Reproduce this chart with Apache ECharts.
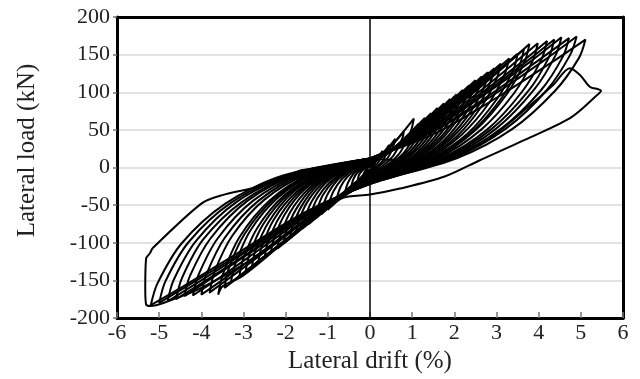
<!DOCTYPE html>
<html>
<head>
<meta charset="utf-8">
<script src="https://cdn.jsdelivr.net/npm/echarts@6/dist/echarts.min.js"></script>
<style>
html,body{margin:0;padding:0;background:#fff;}
#chart{width:640px;height:379px;}
</style>
</head>
<body>
<div id="chart"></div>
<script>
// axis ranges
var driftTicks = [-6,-5,-4,-3,-2,-1,0,1,2,3,4,5,6];
var loadTicks = [-200,-150,-100,-50,0,50,100,150,200];

// load cycles, [drift %, load kN]
var smallCycles = [
	[[0,0],[0.05,4],[0.09,7],[0.13,10],[0.15,12],[0.15,10],[0.13,7],[0.1,4],[0.06,1],[0,-4],[-0.05,-3],[-0.09,-6],[-0.13,-9],[-0.15,-10],[-0.15,-8],[-0.13,-6],[-0.1,-3],[-0.06,-1],[0,2]],
	[[0,2],[0.09,6],[0.18,12],[0.25,18],[0.3,22],[0.29,19],[0.26,13],[0.2,7],[0.12,2],[0,-5],[-0.09,-6],[-0.18,-12],[-0.25,-16],[-0.3,-19],[-0.29,-16],[-0.26,-10],[-0.2,-5],[-0.12,-1],[0,3]],
	[[0,3],[0.14,8],[0.27,17],[0.38,24],[0.45,30],[0.44,26],[0.39,18],[0.3,9],[0.18,2],[0,-6],[-0.14,-9],[-0.27,-17],[-0.38,-24],[-0.45,-28],[-0.44,-24],[-0.39,-15],[-0.3,-7],[-0.18,-2],[0,4]],
	[[0,4],[0.18,10],[0.36,21],[0.5,31],[0.6,38],[0.58,33],[0.52,23],[0.4,11],[0.24,3],[0,-7],[-0.18,-12],[-0.36,-22],[-0.5,-31],[-0.6,-36],[-0.58,-30],[-0.52,-20],[-0.4,-9],[-0.24,-2],[0,5]],
	[[0,5],[0.24,13],[0.48,27],[0.67,39],[0.8,48],[0.78,41],[0.69,29],[0.53,14],[0.32,3],[0,-8],[-0.24,-15],[-0.48,-29],[-0.67,-39],[-0.8,-46],[-0.78,-39],[-0.69,-25],[-0.53,-12],[-0.32,-3],[0,6]],
	[[0,6],[0.31,17],[0.62,36],[0.87,53],[1.04,65],[0.98,50],[0.89,38],[0.69,18],[0.42,4],[0,-10],[-0.3,-18],[-0.6,-35],[-0.84,-48],[-1.0,-56],[-0.97,-47],[-0.86,-31],[-0.66,-15],[-0.4,-3],[0,6]],
	[[0,6],[0.35,16],[0.69,32],[0.97,47],[1.15,58],[1.12,50],[0.99,35],[0.76,17],[0.46,4],[0,-11],[-0.35,-20],[-0.69,-38],[-0.97,-53],[-1.15,-62],[-1.12,-52],[-0.99,-34],[-0.76,-16],[-0.46,-4],[0,7]],
	[[0,7],[0.39,18],[0.78,37],[1.09,54],[1.3,66],[1.26,57],[1.12,40],[0.86,20],[0.52,5],[0,-11],[-0.39,-22],[-0.78,-42],[-1.09,-58],[-1.3,-68],[-1.26,-57],[-1.12,-37],[-0.86,-18],[-0.52,-4],[0,7]],
	[[0,7],[0.44,19],[0.87,40],[1.22,59],[1.45,72],[1.41,62],[1.25,43],[0.96,22],[0.58,5],[0,-12],[-0.44,-25],[-0.87,-47],[-1.22,-64],[-1.45,-75],[-1.41,-63],[-1.25,-41],[-0.96,-20],[-0.58,-5],[0,7]],
	[[0,7],[0.48,21],[0.96,44],[1.34,64],[1.6,79],[1.55,68],[1.38,47],[1.06,24],[0.64,6],[0,-13],[-0.48,-27],[-0.96,-50],[-1.34,-69],[-1.6,-81],[-1.55,-68],[-1.38,-45],[-1.06,-21],[-0.64,-5],[0,8]]
];
var midCycles = [
	[[0,8],[0.53,23],[1.05,47],[1.47,69],[1.75,85],[1.7,73],[1.51,51],[1.16,26],[0.7,6],[0,-13],[-0.53,-29],[-1.05,-54],[-1.47,-74],[-1.75,-87],[-1.7,-73],[-1.51,-48],[-1.16,-23],[-0.7,-5],[0,8]],
	[[0,8],[0.57,24],[1.14,51],[1.6,74],[1.9,91],[1.84,78],[1.63,55],[1.25,27],[0.76,6],[0,-14],[-0.57,-31],[-1.14,-58],[-1.6,-80],[-1.9,-94],[-1.84,-79],[-1.63,-52],[-1.25,-24],[-0.76,-6],[0,8]],
	[[0,8],[0.62,26],[1.23,54],[1.72,79],[2.05,97],[1.99,83],[1.76,58],[1.35,29],[0.82,7],[0,-14],[-0.62,-33],[-1.23,-63],[-1.72,-86],[-2.05,-101],[-1.99,-85],[-1.76,-56],[-1.35,-26],[-0.82,-6],[0,8]],
	[[0,8],[0.66,28],[1.32,58],[1.85,84],[2.2,103],[2.13,89],[1.89,62],[1.45,31],[0.88,7],[0,-15],[-0.66,-36],[-1.32,-67],[-1.85,-92],[-2.2,-108],[-2.13,-91],[-1.89,-59],[-1.45,-28],[-0.88,-6],[0,9]],
	[[0,9],[0.71,29],[1.41,61],[1.97,89],[2.35,109],[2.28,94],[2.02,65],[1.55,33],[0.94,8],[0,-15],[-0.71,-37],[-1.41,-70],[-1.97,-96],[-2.35,-113],[-2.28,-95],[-2.02,-62],[-1.55,-29],[-0.94,-7],[0,9]],
	[[0,9],[0.75,31],[1.5,65],[2.1,95],[2.5,116],[2.43,100],[2.15,70],[1.65,35],[1.0,8],[0,-16],[-0.75,-40],[-1.5,-74],[-2.1,-102],[-2.5,-120],[-2.43,-101],[-2.15,-66],[-1.65,-31],[-1.0,-7],[0,9]],
	[[0,9],[0.8,33],[1.59,68],[2.23,99],[2.65,121],[2.57,104],[2.28,73],[1.75,36],[1.06,8],[0,-16],[-0.8,-42],[-1.59,-78],[-2.23,-107],[-2.65,-126],[-2.57,-106],[-2.28,-69],[-1.75,-33],[-1.06,-8],[0,10]],
	[[0,10],[0.84,34],[1.68,71],[2.35,104],[2.8,127],[2.72,109],[2.41,76],[1.85,38],[1.12,9],[0,-17],[-0.84,-44],[-1.68,-82],[-2.35,-112],[-2.8,-132],[-2.72,-111],[-2.41,-73],[-1.85,-34],[-1.12,-8],[0,10]],
	[[0,10],[0.89,35],[1.77,74],[2.48,108],[2.95,132],[2.86,114],[2.54,79],[1.95,40],[1.18,9],[0,-17],[-0.89,-46],[-1.77,-86],[-2.48,-117],[-2.95,-138],[-2.86,-116],[-2.54,-76],[-1.95,-36],[-1.18,-8],[0,10]],
	[[0,10],[0.93,37],[1.86,77],[2.6,113],[3.1,138],[3.01,119],[2.67,83],[2.05,41],[1.24,10],[0,-17],[-0.93,-48],[-1.86,-90],[-2.6,-123],[-3.1,-145],[-3.01,-122],[-2.67,-80],[-2.05,-38],[-1.24,-9],[0,10]],
	[[0,10],[0.99,39],[1.98,81],[2.77,119],[3.3,145],[3.2,125],[2.84,87],[2.18,44],[1.32,10],[0,-18],[-0.99,-50],[-1.98,-95],[-2.77,-130],[-3.3,-153],[-3.2,-129],[-2.84,-84],[-2.18,-40],[-1.32,-9],[0,11]],
	[[0,11],[1.05,40],[2.1,85],[2.94,124],[3.5,151],[3.4,130],[3.01,91],[2.31,45],[1.4,11],[0,-18],[-1.04,-53],[-2.07,-99],[-2.9,-136],[-3.45,-160],[-3.35,-134],[-2.97,-88],[-2.28,-42],[-1.38,-10],[0,11]],
	[[0,11],[1.1,42],[2.19,88],[3.07,129],[3.65,157],[3.54,135],[3.14,94],[2.41,47],[1.46,11],[0,-18],[-1.08,-56],[-2.16,-105],[-3.02,-144],[-3.5,-158],[-3.6,-169],[-3.49,-142],[-3.1,-93],[-2.38,-44],[-1.44,-10],[0,11]]
];
var lateCycles = [
	[[0,11],[1.13,44],[2.27,91],[3.18,134],[3.78,164],[3.67,141],[3.25,98],[2.49,49],[1.51,11],[0,-19],[-1.14,-55],[-2.28,-103],[-3.19,-141],[-3.8,-166],[-3.69,-139],[-3.27,-91],[-2.51,-43],[-1.52,-10],[0,11]],
	[[0,11],[1.19,44],[2.39,92],[3.34,135],[3.98,165],[3.86,142],[3.42,99],[2.63,50],[1.59,12],[0,-19],[-1.2,-56],[-2.4,-105],[-3.36,-144],[-4.0,-169],[-3.88,-142],[-3.44,-93],[-2.64,-44],[-1.6,-10],[0,11]],
	[[0,11],[1.26,45],[2.52,94],[3.53,137],[4.2,168],[4.07,144],[3.61,101],[2.77,50],[1.68,12],[0,-20],[-1.26,-56],[-2.52,-105],[-3.53,-145],[-4.2,-170],[-4.07,-143],[-3.61,-94],[-2.77,-44],[-1.68,-10],[0,12]],
	[[0,12],[1.31,45],[2.62,95],[3.67,139],[4.37,170],[4.24,146],[3.76,102],[2.88,51],[1.75,12],[0,-20],[-1.32,-56],[-2.64,-106],[-3.7,-145],[-4.4,-171],[-4.27,-144],[-3.78,-94],[-2.9,-44],[-1.76,-10],[0,12]],
	[[0,12],[1.36,46],[2.72,97],[3.81,141],[4.54,173],[4.4,149],[3.9,104],[3.0,52],[1.82,12],[0,-21],[-1.38,-58],[-2.76,-109],[-3.86,-149],[-4.6,-175],[-4.46,-147],[-3.96,-96],[-3.04,-46],[-1.84,-11],[0,12]],
	[[0,12],[1.42,46],[2.83,96],[3.96,141],[4.72,172],[4.58,148],[4.06,103],[3.12,52],[1.89,12],[0,-21],[-1.44,-59],[-2.88,-110],[-4.03,-151],[-4.8,-178],[-4.66,-150],[-4.13,-98],[-3.17,-46],[-1.92,-11],[0,12]],
	[[0,12],[1.47,47],[2.94,97],[4.12,142],[4.9,174],[4.75,150],[4.21,104],[3.23,52],[1.96,12],[0,-22],[-1.5,-59],[-3.0,-112],[-4.2,-153],[-5.0,-180],[-4.85,-151],[-4.3,-99],[-3.3,-47],[-2.0,-11],[0,12]],
	[[0,12],[1.53,45],[3.07,95],[4.29,139],[5.11,170],[4.96,146],[4.39,102],[3.37,51],[2.04,12],[0,-22],[-1.56,-60],[-3.12,-113],[-4.37,-156],[-5.2,-183],[-5.04,-154],[-4.47,-101],[-3.43,-48],[-2.08,-11],[0,12]]
];
var finalCycle = [
	[0,12],[0.8,10],[1.8,14],[2.8,38],[3.7,78],[4.35,110],[4.74,132],[4.98,123],[5.22,107],[5.41,104],[5.48,102],[5.38,96],
	[4.78,67],[3.8,40],[2.58,9],[1.77,-12],[0.71,-28],[0,-36],[-0.67,-41],[-1.6,-74],[-2.8,-122],[-4.0,-160],[-4.9,-180],
	[-5.2,-184],[-5.31,-182],[-5.33,-160],[-5.31,-121],[-5.22,-114],[-5.15,-107],[-4.0,-48],[-3.52,-37],[-2.54,-24],
	[-1.65,-4],[-1.4,-2],[-0.7,5],[0,10]
];

var serif = 'Liberation Serif';
var textColor = '#222';
var allCycles = smallCycles.concat(midCycles, lateCycles, [finalCycle]);
var series = [];
for (var i = 0; i < allCycles.length; i++) {
	series.push({
		type: 'line',
		data: allCycles[i],
		showSymbol: false,
		smooth: 0.3,
		silent: true,
		lineStyle: {color: '#000', width: 2}
	});
}
// 零点竖线
series[0].markLine = {
	silent: true,
	symbol: 'none',
	label: {show: false},
	lineStyle: {color: '#000', width: 1.5, type: 'solid'},
	data: [{xAxis: 0}]
};

var frameLine = {show: true, onZero: false, lineStyle: {color: '#000', width: 3}};
var chart = echarts.init(document.getElementById('chart'));
chart.setOption({
	animation: false,
	backgroundColor: '#fff',
	grid: {left: 117, right: 17, top: 17, bottom: 61},
	xAxis: [{
		type: 'value', min: driftTicks[0], max: driftTicks[driftTicks.length - 1], interval: 1,
		name: 'Lateral drift (%)', nameLocation: 'middle', nameGap: 31,
		nameTextStyle: {fontFamily: serif, fontSize: 25, color: textColor},
		axisLine: frameLine,
		axisTick: {show: true, inside: true, length: 6, lineStyle: {color: '#777', width: 1.5}},
		axisLabel: {fontFamily: serif, fontSize: 22, color: textColor, margin: 4},
		splitLine: {show: false}
	}, {
		type: 'value', position: 'top', min: -6, max: 6, interval: 1,
		axisLine: frameLine, axisTick: {show: false}, axisLabel: {show: false}, splitLine: {show: false}
	}],
	yAxis: [{
		type: 'value', min: loadTicks[0], max: loadTicks[loadTicks.length - 1], interval: 50,
		name: 'Lateral load (kN)', nameLocation: 'middle', nameGap: 77,
		nameTextStyle: {fontFamily: serif, fontSize: 25, color: textColor, padding: [0, 0, 0, 34]},
		axisLine: frameLine,
		axisTick: {show: true, length: 4, lineStyle: {color: '#777', width: 1.5}},
		axisLabel: {fontFamily: serif, fontSize: 22, color: textColor, margin: 7},
		splitLine: {show: true, lineStyle: {color: '#d9d9d9', width: 1.5}}
	}, {
		type: 'value', position: 'right', min: -200, max: 200, interval: 50,
		axisLine: frameLine, axisTick: {show: false}, axisLabel: {show: false}, splitLine: {show: false}
	}],
	series: series
});
</script>
</body>
</html>
